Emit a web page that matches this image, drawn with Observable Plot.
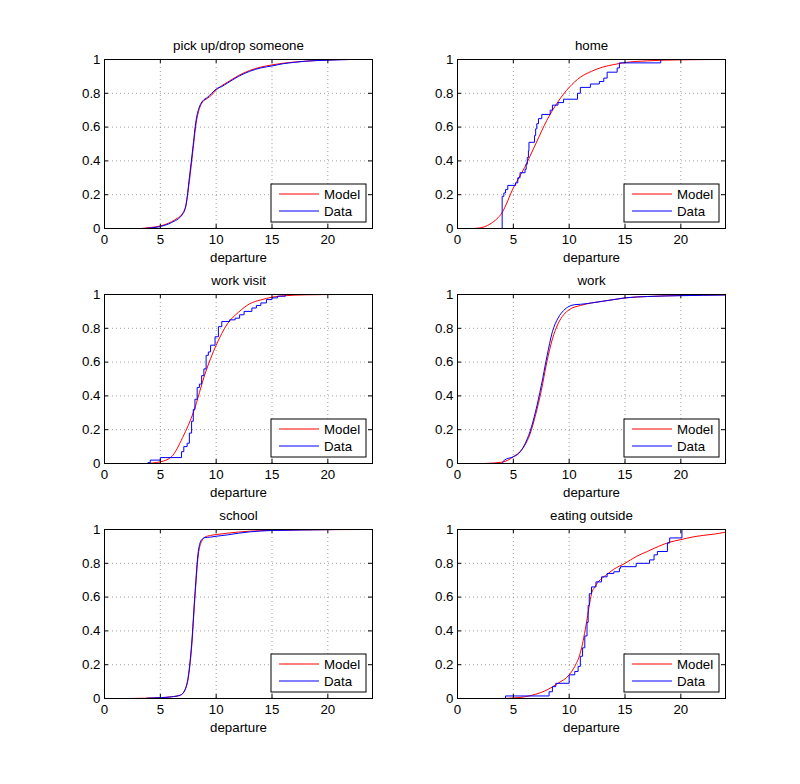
<!DOCTYPE html>
<html>
<head>
<meta charset="utf-8">
<script src="https://cdn.jsdelivr.net/npm/d3@7"></script>
<script src="https://cdn.jsdelivr.net/npm/@observablehq/plot@0.6"></script>
<style>
  html, body { margin: 0; padding: 0; background: #fff; }
  #wrap { position: relative; width: 800px; height: 784px; background: #fff; }
  #wrap > svg { position: absolute; }
</style>
</head>
<body>
<div id="wrap"></div>
<script>
const titles = ["pick up/drop someone", "home", "work visit", "work", "school", "eating outside"];
const xTicks = [0, 5, 10, 15, 20];
const yTicks = [0, 0.2, 0.4, 0.6, 0.8, 1];
const yTickLabels = ["0", "0.2", "0.4", "0.6", "0.8", "1"];
const xGrid = [5, 10, 15, 20];
const yGrid = [0.2, 0.4, 0.6, 0.8];
const legendLabels = ["Model", "Data"];
const xLabel = "departure";

// pick up/drop someone
const pickupModel = [[3.3,0],[4,0.005],[5,0.015],[6,0.04],[6.5,0.06],[7,0.09],[7.3,0.14],[7.6,0.28],[7.9,0.45],[8.2,0.62],[8.5,0.71],[8.8,0.75],[9.2,0.77],[9.6,0.79],[10,0.82],[10.5,0.845],[11,0.865],[12,0.905],[13,0.935],[14,0.955],[15,0.968],[16,0.978],[17,0.985],[18,0.99],[19,0.994],[20,0.997],[22,1],[24,1]];
const pickupData = [[3.5,0],[5,0.012],[6,0.035],[7,0.085],[7.3,0.14],[7.6,0.3],[7.9,0.47],[8.2,0.64],[8.5,0.72],[8.8,0.755],[9.2,0.775],[9.6,0.8],[10,0.825],[10.5,0.84],[11,0.86],[12,0.9],[13,0.93],[14,0.95],[15,0.962],[16,0.975],[17,0.983],[18,0.99],[20,0.996],[22,1]];

// home
const homeModel = [[1.5,0],[2.4,0.01],[3,0.03],[4,0.095],[5,0.24],[6,0.36],[7,0.5],[8,0.64],[9,0.75],[10,0.835],[11,0.895],[12,0.93],[13,0.955],[14,0.97],[15,0.982],[17,0.992],[20,0.998],[24,1]];
const homeData = [[4,0],[4,0.19],[4.15,0.21],[4.3,0.23],[4.5,0.255],[5.2,0.27],[5.4,0.3],[5.6,0.33],[6.05,0.35],[6.15,0.38],[6.25,0.42],[6.35,0.46],[6.4,0.51],[6.9,0.55],[7.0,0.59],[7.1,0.62],[7.25,0.65],[7.55,0.675],[8.3,0.7],[8.5,0.73],[9.0,0.745],[9.5,0.765],[10.75,0.8],[11.0,0.835],[11.9,0.855],[12.7,0.87],[13.1,0.89],[13.4,0.925],[14.3,0.95],[14.5,0.98],[18.2,1.0]];

// work visit
const visitModel = [[3.7,0],[5,0.01],[6,0.04],[7,0.154],[8,0.31],[9,0.53],[10,0.7],[11,0.826],[12,0.895],[13,0.945],[14,0.968],[15,0.984],[16,0.992],[18,0.998],[21,1]];
const visitData = [[3.9,0.005],[4.1,0.02],[5.0,0.035],[6.9,0.07],[7.1,0.1],[7.4,0.12],[7.6,0.18],[7.8,0.25],[7.95,0.32],[8.1,0.38],[8.3,0.45],[8.5,0.47],[8.7,0.52],[8.9,0.56],[9.1,0.64],[9.3,0.66],[9.5,0.7],[9.9,0.75],[10.2,0.81],[10.5,0.84],[11.2,0.85],[11.7,0.86],[12.1,0.88],[12.5,0.9],[13.2,0.92],[13.6,0.935],[14,0.95],[14.5,0.97],[15,0.98],[15.5,0.99],[16.2,1.0]];

// work
const workModel = [[2.4,0],[4,0.008],[5,0.04],[6,0.105],[6.5,0.175],[7,0.29],[7.5,0.43],[8,0.6],[8.5,0.737],[9,0.826],[9.5,0.88],[10,0.91],[11,0.935],[12,0.95],[13,0.96],[14,0.97],[15,0.98],[17,0.988],[20,0.994],[24,0.998]];
const workData = [[4,0],[4.2,0.02],[5,0.04],[5.5,0.06],[6,0.11],[6.5,0.19],[7,0.31],[7.5,0.46],[8,0.63],[8.5,0.78],[9,0.86],[9.5,0.905],[10,0.93],[10.5,0.94],[11,0.942],[12,0.95],[13,0.96],[14,0.97],[15,0.98],[17,0.988],[20,0.993],[24,0.997]];

// school
const schoolModel = [[2.2,0],[5,0.005],[6,0.01],[6.8,0.02],[7.2,0.05],[7.5,0.12],[7.8,0.3],[8.1,0.6],[8.4,0.85],[8.7,0.93],[9,0.955],[9.5,0.965],[10,0.97],[11,0.978],[12,0.985],[13,0.99],[15,0.995],[20,0.999],[24,1]];
const schoolData = [[3.8,0.002],[5,0.005],[6,0.01],[6.8,0.02],[7.2,0.05],[7.5,0.13],[7.8,0.32],[8.1,0.62],[8.4,0.87],[8.7,0.94],[9,0.952],[9.5,0.955],[10,0.96],[11,0.968],[12,0.978],[13,0.986],[15,0.994],[20,0.999],[21,1]];

// eating outside
const eatingModel = [[4,0],[5,0.003],[6,0.01],[7,0.025],[8,0.05],[9,0.09],[10,0.14],[10.5,0.19],[11,0.27],[11.5,0.43],[11.8,0.55],[12,0.62],[12.3,0.66],[12.6,0.69],[13,0.715],[13.5,0.74],[14,0.765],[15,0.8],[16,0.84],[17,0.87],[18,0.9],[19,0.925],[20,0.94],[21,0.955],[22,0.965],[23,0.973],[24,0.984]];
const eatingData = [[4.3,0],[4.3,0.015],[8.2,0.04],[8.5,0.07],[8.8,0.09],[10.0,0.14],[10.5,0.16],[10.8,0.19],[11.0,0.25],[11.2,0.3],[11.4,0.37],[11.6,0.45],[11.7,0.55],[11.8,0.62],[12.0,0.66],[12.4,0.69],[12.9,0.72],[13.4,0.74],[14.0,0.75],[14.5,0.77],[14.6,0.78],[16.0,0.8],[17.2,0.82],[17.6,0.85],[17.9,0.87],[18.8,0.92],[19.0,0.95],[20.1,1.0]];

const panels = [
  {model: pickupModel, data: pickupData, dataCurve: "monotone-x"},
  {model: homeModel, data: homeData, dataCurve: "step-after"},
  {model: visitModel, data: visitData, dataCurve: "step-after"},
  {model: workModel, data: workData, dataCurve: "monotone-x"},
  {model: schoolModel, data: schoolData, dataCurve: "monotone-x"},
  {model: eatingModel, data: eatingData, dataCurve: "step-after"}
];

const W = 268, H = 169, ML = 40, MR = 20, MT = 30, MB = 40;
const colLeft = [64, 417];
const rowTop = [29, 264, 499];
const wrap = document.getElementById("wrap");
const font = "'Liberation Sans', Arial, Helvetica, sans-serif";
const FS = 13.3;

panels.forEach((p, i) => {
  const chart = Plot.plot({
    width: ML + W + MR,
    height: MT + H + MB,
    marginLeft: ML, marginRight: MR, marginTop: MT, marginBottom: MB,
    style: {fontFamily: font, fontSize: FS + "px", color: "#000", background: "transparent", overflow: "visible"},
    x: {domain: [0, 24]},
    y: {domain: [0, 1]},
    marks: [
      Plot.ruleX(xGrid, {stroke: "#888", strokeOpacity: 0.8, strokeDasharray: "1,3"}),
      Plot.ruleY(yGrid, {stroke: "#888", strokeOpacity: 0.8, strokeDasharray: "1,3"}),
      Plot.line(p.model, {x: d => d[0], y: d => d[1], stroke: "#ff0000", strokeWidth: 1, curve: "monotone-x"}),
      Plot.line(p.data, {x: d => d[0], y: d => d[1], stroke: "#0000ff", strokeWidth: 1, curve: p.dataCurve}),
      Plot.ruleX(xTicks, {stroke: "#000", insetTop: H - 4}),
      Plot.ruleX(xTicks, {stroke: "#000", insetBottom: H - 4}),
      Plot.ruleY(yTicks, {stroke: "#000", insetRight: W - 4}),
      Plot.ruleY(yTicks, {stroke: "#000", insetLeft: W - 4}),
      Plot.axisX({ticks: xTicks, tickSize: 0, tickPadding: 6, label: null, fontSize: FS, tickFormat: d => String(d)}),
      Plot.axisY({ticks: yTicks, tickSize: 0, tickPadding: 4, label: null, fontSize: FS, tickFormat: d => yTickLabels[yTicks.indexOf(d)]}),
      Plot.text([titles[i]], {text: d => d, frameAnchor: "top", lineAnchor: "middle", dy: -14, fontSize: FS, fill: "#000"}),
      Plot.text([xLabel], {text: d => d, frameAnchor: "bottom", lineAnchor: "middle", dy: 29, fontSize: FS, fill: "#000"}),
      Plot.frame({stroke: "#000"})
    ]
  });
  const svg = d3.select(chart);
  svg.style("left", colLeft[i % 2] + "px").style("top", rowTop[Math.floor(i / 2)] + "px");
  const bw = 95, bh = 38;
  const g = svg.append("g").attr("transform", `translate(${ML + W - 6 - bw},${MT + H - 6 - bh})`);
  g.append("rect").attr("width", bw).attr("height", bh).attr("fill", "#fff").attr("stroke", "#000");
  const colors = ["#ff0000", "#0000ff"];
  legendLabels.forEach((lab, k) => {
    const y = 10 + k * 17;
    g.append("line").attr("x1", 8).attr("x2", 48).attr("y1", y).attr("y2", y).attr("stroke", colors[k]);
    g.append("text").attr("x", 53).attr("y", y).attr("dy", "0.35em")
      .attr("text-anchor", "start")
      .attr("font-family", font).attr("font-size", FS).attr("fill", "#000").text(lab);
  });
  wrap.appendChild(chart);
});
</script>
</body>
</html>
